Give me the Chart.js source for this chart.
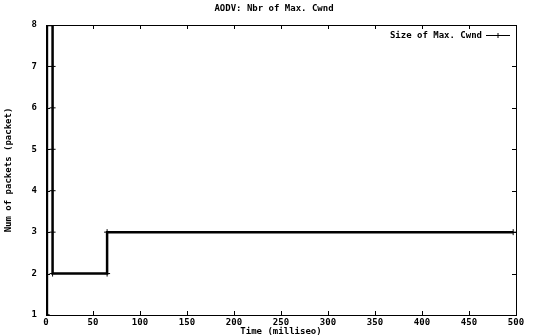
<!DOCTYPE html>
<html>
<head>
<meta charset="utf-8">
<script src="https://cdn.jsdelivr.net/npm/chart.js@4"></script>
<style>
  html, body { margin: 0; padding: 0; background: #fff; }
  #wrap { width: 540px; height: 336px; }
</style>
</head>
<body>
<div id="wrap"><canvas id="cwndChart" width="540" height="336"></canvas></div>
<script>
// Max. Cwnd size over time
const timeMs = [0, 1, 1, 7, 7, 7, 7, 7, 7, 7, 65, 65, 497];
const cwnd   = [1, 1, 8, 8, 7, 6, 5, 4, 3, 2, 2, 3, 3];
const xTicks = [0, 50, 100, 150, 200, 250, 300, 350, 400, 450, 500];
const yTicks = [1, 2, 3, 4, 5, 6, 7, 8];
const chartTitle = 'AODV: Nbr of Max. Cwnd';

const FONT = { family: 'DejaVu Sans Mono', size: 9, weight: 'bold' };

// box frame, inward ticks, title and legend in gnuplot style
const framePlugin = {
    id: 'frame',
    afterDraw(chart) {
        const { ctx, chartArea: a, scales } = chart;
        ctx.save();
        ctx.strokeStyle = '#000';
        ctx.lineWidth = 1;
        ctx.strokeRect(a.left + 0.5, a.top + 0.5, a.right - a.left, a.bottom - a.top);
        ctx.beginPath();
        xTicks.forEach(v => {
            const px = Math.round(scales.x.getPixelForValue(v)) + 0.5;
            ctx.moveTo(px, a.bottom); ctx.lineTo(px, a.bottom - 4);
            ctx.moveTo(px, a.top); ctx.lineTo(px, a.top + 4);
        });
        yTicks.forEach(v => {
            const py = Math.round(scales.y.getPixelForValue(v)) + 0.5;
            ctx.moveTo(a.left, py); ctx.lineTo(a.left + 4, py);
            ctx.moveTo(a.right, py); ctx.lineTo(a.right - 4, py);
        });
        ctx.stroke();

        ctx.font = `${FONT.weight} ${FONT.size}px ${FONT.family}`;
        ctx.fillStyle = '#000';
        ctx.textBaseline = 'middle';

        // title
        ctx.textAlign = 'center';
        ctx.fillText(chartTitle, 274, 9);

        // legend
        const ly = a.top + 10.5;
        ctx.textAlign = 'right';
        ctx.fillText(chart.data.datasets[0].label, a.right - 34, ly);
        ctx.beginPath();
        ctx.moveTo(a.right - 30, ly); ctx.lineTo(a.right - 6, ly);
        ctx.moveTo(a.right - 18, ly - 2.5); ctx.lineTo(a.right - 18, ly + 2.5);
        ctx.stroke();
        ctx.restore();
    }
};

new Chart(document.getElementById('cwndChart').getContext('2d'), {
    type: 'line',
    data: {
        datasets: [{
            label: 'Size of Max. Cwnd',
            data: timeMs.map((t, i) => ({ x: t, y: cwnd[i] })),
            borderColor: '#000',
            backgroundColor: '#000',
            borderWidth: 2.5,
            pointStyle: 'cross',
            pointRadius: 3,
            pointBorderWidth: 1,
            tension: 0
        }]
    },
    options: {
        responsive: false,
        animation: false,
        layout: { padding: { left: 0, right: 24, top: 25, bottom: 0 } },
        plugins: {
            legend: { display: false },
            tooltip: { enabled: false },
            title: { display: false }
        },
        scales: {
            x: {
                type: 'linear',
                min: 0,
                max: 500,
                afterBuildTicks: s => { s.ticks = xTicks.map(v => ({ value: v })); },
                afterFit: s => { s.height = 21; },
                grid: { display: false, drawTicks: false },
                border: { display: false },
                ticks: { color: '#000', font: FONT, padding: 2, maxRotation: 0 },
                title: { display: true, text: 'Time (milliseo)', color: '#000', font: FONT, padding: { top: 0, bottom: -1 } }
            },
            y: {
                type: 'linear',
                min: 1,
                max: 8,
                afterBuildTicks: s => { s.ticks = yTicks.map(v => ({ value: v })); },
                afterFit: s => { s.width = 46; },
                grid: { display: false, drawTicks: false },
                border: { display: false },
                ticks: { color: '#000', font: FONT, padding: 9 },
                title: { display: true, text: 'Num of packets (packet)', color: '#000', font: FONT, padding: { top: 3, bottom: 3 } }
            }
        }
    },
    plugins: [framePlugin]
});
</script>
</body>
</html>
